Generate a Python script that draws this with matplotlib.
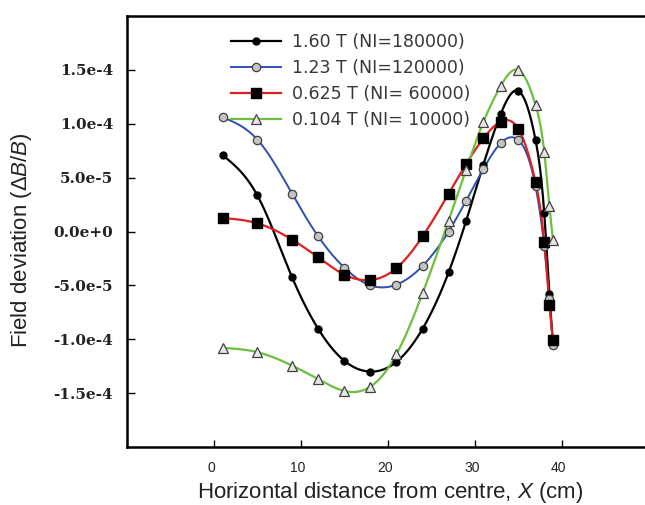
import numpy as np
import matplotlib
matplotlib.use("Agg")
import matplotlib.pyplot as plt
from matplotlib.transforms import ScaledTranslation

# ---- data (field deviation in units of 1e-5) ----
x_pos = [1, 5, 9, 12, 15, 18, 21, 24, 27, 29, 31, 33, 35, 37, 38, 38.6, 39]
y_160 = [7.09, 3.35, -4.26, -9.04, -12.0, -13.0, -12.1, -9.04, -3.8, 0.94, 6.2, 10.9, 13.06, 8.5, 1.76, -5.8, -10.3]
y_123 = [10.6, 8.53, 3.5, -0.46, -3.35, -5.0, -4.93, -3.2, 0.0, 2.83, 5.8, 8.2, 8.5, 4.2, -1.3, -6.3, -10.5]
y_0625 = [1.25, 0.76, -0.76, -2.4, -4.0, -4.5, -3.4, -0.46, 3.5, 6.24, 8.64, 10.2, 9.55, 4.55, -0.97, -6.8, -10.1]
y_0104 = [-10.8, -11.2, -12.45, -13.7, -14.8, -14.4, -11.4, -5.75, 1.0, 5.72, 10.15, 13.5, 15.0, 11.75, 7.4, 2.36, -0.76]
labels = ["1.60 T (NI=180000)", "1.23 T (NI=120000)", "0.625 T (NI= 60000)", "0.104 T (NI= 10000)"]
x_ticks = [0, 10, 20, 30, 40]
y_ticks = [-1.5e-4, -1.0e-4, -5e-5, 0.0, 5e-5, 1.0e-4, 1.5e-4]
y_ticklabels = ["-1.5e-4", "-1.0e-4", "-5.0e-5", "0.0e+0", "5.0e-5", "1.0e-4", "1.5e-4"]


def natural_spline(x, y, n=400):
    x = np.asarray(x, float)
    y = np.asarray(y, float)
    m = len(x)
    h = np.diff(x)
    A = np.zeros((m, m))
    r = np.zeros(m)
    A[0, 0] = 1
    A[-1, -1] = 1
    for i in range(1, m - 1):
        A[i, i - 1] = h[i - 1]
        A[i, i] = 2 * (h[i - 1] + h[i])
        A[i, i + 1] = h[i]
        r[i] = 3 * ((y[i + 1] - y[i]) / h[i] - (y[i] - y[i - 1]) / h[i - 1])
    c = np.linalg.solve(A, r)
    xs = np.linspace(x[0], x[-1], n)
    idx = np.clip(np.searchsorted(x, xs) - 1, 0, m - 2)
    hi = h[idx]
    b = (y[idx + 1] - y[idx]) / hi - hi * (2 * c[idx] + c[idx + 1]) / 3
    d = (c[idx + 1] - c[idx]) / (3 * hi)
    t = xs - x[idx]
    ys = y[idx] + b * t + c[idx] * t ** 2 + d * t ** 3
    return xs, ys


plt.rcParams['mathtext.fontset'] = 'custom'
plt.rcParams['mathtext.rm'] = 'Liberation Sans'
plt.rcParams['mathtext.it'] = 'Liberation Sans:italic'

fig = plt.figure(figsize=(6.45, 5.05), dpi=100)
ax = fig.add_axes([127 / 645, 58 / 505, 521.5 / 645, 431 / 505])

series = [
    (y_160, dict(color='black', lw=1.6), dict(marker='o', ms=5, mfc='black', mec='black')),
    (y_123, dict(color='#2f4fb0', lw=1.4), dict(marker='o', ms=6, mfc='#c4c4c4', mec='#404040', mew=0.9)),
    (y_0625, dict(color='#e01f1f', lw=1.6), dict(marker='s', ms=7, mfc='black', mec='black')),
    (y_0104, dict(color='#6cc040', lw=1.6), dict(marker='^', ms=7.5, mfc='#e6e6e6', mec='#404040', mew=0.9)),
]

handles = []
for (yv, lstyle, mstyle), lab in zip(series, labels):
    ya = np.asarray(yv) * 1e-5
    xs, ys = natural_spline(x_pos, ya)
    ax.plot(xs, ys, zorder=2, **lstyle)
    ax.plot(x_pos, ya, ls='none', zorder=3, **mstyle)
    h, = ax.plot([], [], **lstyle, **mstyle)
    handles.append(h)

ax.set_xlim(-10, 50)
ax.set_ylim(-2e-4, 2e-4)
ax.set_xticks(x_ticks)
ax.set_yticks(y_ticks)
ax.set_yticklabels(y_ticklabels, family='DejaVu Serif', fontweight='bold', fontsize=11, color='#222222')
ax.set_xticklabels([str(v) for v in x_ticks], family='Liberation Sans', fontsize=10, color='#222222')
ax.tick_params(axis='x', direction='in', length=5, width=1, pad=10)
ax.tick_params(axis='y', direction='in', length=6, width=1, pad=10)
off = ScaledTranslation(-3 / 100, 0, fig.dpi_scale_trans)
for lbl in ax.get_xticklabels():
    lbl.set_transform(lbl.get_transform() + off)

for s in ['left', 'bottom', 'top']:
    ax.spines[s].set_linewidth(1.8)
ax.spines['right'].set_visible(False)

ax.set_xlabel(r"Horizontal distance from centre, $\it{X}$ (cm)", family='Liberation Sans', fontsize=16, color='#222222')
ax.xaxis.label.set_va('baseline')
ax.xaxis.set_label_coords(0.505, -0.119)
ax.set_ylabel(r"Field deviation ($\Delta\it{B}/\it{B}$)", family='Liberation Sans', fontsize=16, color='#222222')
ax.yaxis.set_label_coords(-0.178, 0.48)

leg = ax.legend(handles, labels, loc='upper left', bbox_to_anchor=(231 / 645, 1 - 33 / 505),
                bbox_transform=fig.transFigure, frameon=False, borderpad=0, borderaxespad=0,
                handlelength=2.9, handletextpad=0.6, labelspacing=0.46,
                prop={'family': 'DejaVu Sans', 'size': 12.5})
for t in leg.get_texts():
    t.set_color('#383838')

fig.savefig('out.png', dpi=100)
